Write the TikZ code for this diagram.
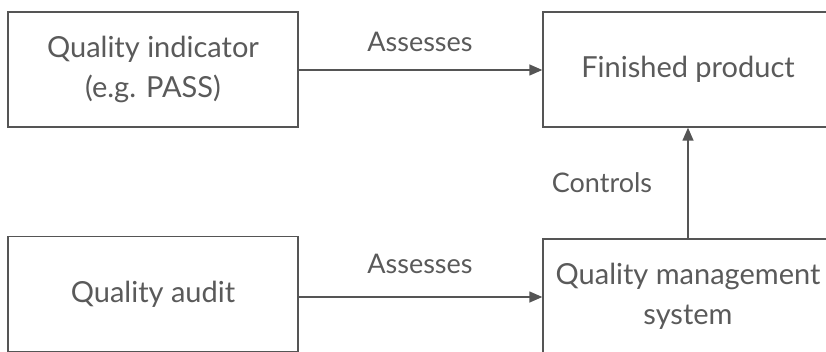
\documentclass[tikz,border=0pt]{standalone}
\usepackage{fontspec}
\setmainfont{Lato}
\usetikzlibrary{arrows.meta}
\definecolor{ink}{HTML}{5A5A5A}
\definecolor{edge}{HTML}{555555}
\begin{document}
\begin{tikzpicture}[x=1pt,y=1pt,
  box/.style={draw=edge, line width=1.4pt, minimum width=290pt, minimum height=115pt,
    align=center, text=ink, font=\fontsize{29}{40}\selectfont, inner sep=0pt},
  lbl/.style={text=ink, font=\fontsize{27}{30}\selectfont, inner sep=0pt},
  link/.style={draw=edge, line width=1.4pt, -{Triangle[length=13pt,width=11pt]}}]
  \useasboundingbox (0,0) rectangle (826,351);
  \clip (0,0) rectangle (826,351);
  \fill[white] (0,0) rectangle (826,351);

  % four boxes
  \node[box] (ind) at (153,281.5) {Quality indicator\\(e.g. PASS)};
  \node[box] (fin) at (688,281.5) {Finished product};
  \node[box] (aud) at (153,57) {Quality audit};
  \node[box] (qms) at (688,54.5) {Quality management\\system};

  % connectors
  \draw[link] (ind.east |- 0,281) -- (fin.west |- 0,281);
  \draw[link] (aud.east |- 0,54) -- (qms.west |- 0,54);
  \draw[link] (qms.north) -- (fin.south);

  % connector labels
  \node[lbl] (l1) at (420,309) {Assesses};
  \node[lbl] (l2) at (420,87) {Assesses};
  \node[lbl] (l3) at (602,168) {Controls};
\end{tikzpicture}
\end{document}
